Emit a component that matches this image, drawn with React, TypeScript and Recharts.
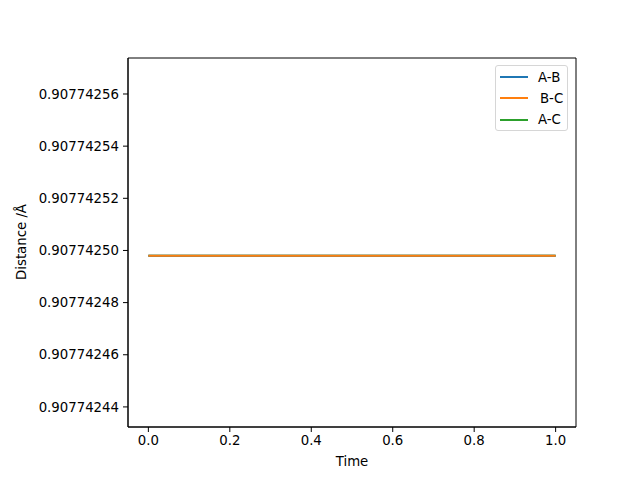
import { LineChart, Line, XAxis, YAxis, ReferenceArea } from 'recharts';

// Values: all three distances sit on the same flat level.
const times = [0, 0.1, 0.2, 0.3, 0.4, 0.5, 0.6, 0.7, 0.8, 0.9, 1.0];
const distAB = [0.907742498, 0.907742498, 0.907742498, 0.907742498, 0.907742498, 0.907742498, 0.907742498, 0.907742498, 0.907742498, 0.907742498, 0.907742498];
const distBC = [0.907742498, 0.907742498, 0.907742498, 0.907742498, 0.907742498, 0.907742498, 0.907742498, 0.907742498, 0.907742498, 0.907742498, 0.907742498];
const distAC = [0.907742498, 0.907742498, 0.907742498, 0.907742498, 0.907742498, 0.907742498, 0.907742498, 0.907742498, 0.907742498, 0.907742498, 0.907742498];

const xTicks = [0, 0.2, 0.4, 0.6, 0.8, 1.0];
const yTicks = [0.90774244, 0.90774246, 0.90774248, 0.9077425, 0.90774252, 0.90774254, 0.90774256];

const X_DOMAIN: [number, number] = [-0.05, 1.05];
const Y_DOMAIN: [number, number] = [0.9077424323, 0.9077425738];

const FONT = '"DejaVu Sans", sans-serif';

const SERIES = [
  { key: 'ab', name: 'A-B', color: '#1f77b4' },
  { key: 'bc', name: 'B-C', color: '#ff7f0e' },
  { key: 'ac', name: 'A-C', color: '#2ca02c' },
];

// Orange ends up on top in the reference, so draw green, blue, then orange.
const DRAW_ORDER = ['ac', 'ab', 'bc'];

export default function App() {
  const data = times.map((t, i) => ({ t, ab: distAB[i], bc: distBC[i], ac: distAC[i] }));
  const tickStyle = { fill: '#000', fontSize: 13.3, fontFamily: FONT };

  return (
    <div style={{ position: 'fixed', left: 0, top: 0, width: 640, height: 480, background: '#fff' }}>
      <LineChart width={640} height={480} data={data} margin={{ top: 58, right: 64, left: 0, bottom: 0 }}>
        <XAxis
          dataKey="t"
          type="number"
          domain={X_DOMAIN}
          ticks={xTicks}
          allowDataOverflow
          height={53}
          tick={tickStyle}
          tickSize={5}
          tickMargin={4}
          tickLine={{ stroke: '#000' }}
          axisLine={{ stroke: '#000' }}
          tickFormatter={(v: number) => v.toFixed(1)}
        />
        <YAxis
          type="number"
          domain={Y_DOMAIN}
          ticks={yTicks}
          allowDataOverflow
          width={128}
          tick={tickStyle}
          tickSize={5}
          tickMargin={4}
          tickLine={{ stroke: '#000' }}
          axisLine={{ stroke: '#000' }}
          tickFormatter={(v: number) => v.toFixed(8)}
        />
        <ReferenceArea
          x1={X_DOMAIN[0]}
          x2={X_DOMAIN[1]}
          y1={Y_DOMAIN[0]}
          y2={Y_DOMAIN[1]}
          fill="none"
          stroke="#000"
          strokeWidth={1}
          ifOverflow="visible"
        />
        {DRAW_ORDER.map((k) => {
          const s = SERIES.find((x) => x.key === k)!;
          return (
            <Line
              key={k}
              dataKey={k}
              name={s.name}
              stroke={s.color}
              strokeWidth={2}
              dot={false}
              type="linear"
              isAnimationActive={false}
            />
          );
        })}
      </LineChart>

      <div
        style={{
          position: 'absolute',
          left: 352,
          top: 454,
          transform: 'translateX(-50%)',
          fontFamily: FONT,
          fontSize: 13.3,
          color: '#000',
          whiteSpace: 'nowrap',
        }}
      >
        Time
      </div>
      <div
        style={{
          position: 'absolute',
          left: 21,
          top: 242,
          transform: 'translate(-50%, -50%) rotate(-90deg)',
          fontFamily: FONT,
          fontSize: 13.3,
          color: '#000',
          whiteSpace: 'nowrap',
        }}
      >
        Distance /Å
      </div>

      <div
        style={{
          position: 'absolute',
          left: 495,
          top: 65,
          width: 73,
          height: 66,
          boxSizing: 'border-box',
          border: '1px solid #d6d6d6',
          borderRadius: 3,
          background: 'rgba(255,255,255,0.8)',
          fontFamily: FONT,
          fontSize: 13.3,
          color: '#000',
        }}
      >
        {SERIES.map((s, i) => (
          <div
            key={s.key}
            style={{ position: 'absolute', left: 4, top: 3 + i * 21.3, height: 16, display: 'flex', alignItems: 'center' }}
          >
            <span style={{ display: 'inline-block', width: 28, height: 2, background: s.color }} />
            <span style={{ marginLeft: i === 1 ? 12 : 10 }}>{s.name}</span>
          </div>
        ))}
      </div>
    </div>
  );
}
